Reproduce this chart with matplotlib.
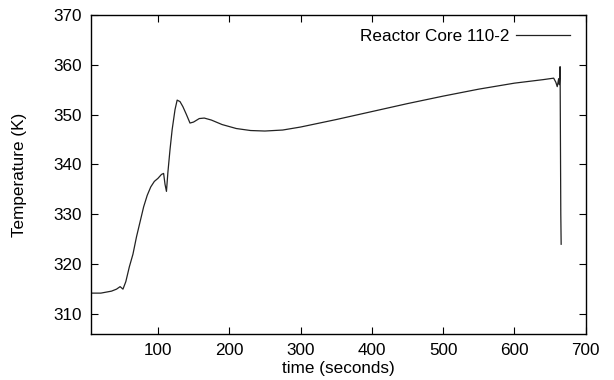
import matplotlib
matplotlib.use("Agg")
import matplotlib.pyplot as plt

plt.rcParams['font.family'] = ['Liberation Sans', 'DejaVu Sans']

time_s = [6, 20, 35, 42, 47, 51, 55, 60, 65, 70, 75, 80, 85, 90, 95, 100, 105,
          108, 110, 112, 114, 117, 120, 124, 127, 131, 135, 140, 145, 150, 158,
          165, 175, 190, 210, 230, 250, 275, 300, 350, 400, 450, 500, 550, 600,
          640, 655, 658, 660, 662, 663, 664, 665, 665.5]
temp_k = [314.2, 314.2, 314.6, 315.0, 315.5, 315.0, 316.5, 319.5, 322.0, 325.5,
          328.5, 331.5, 333.8, 335.5, 336.6, 337.2, 338.0, 338.2, 336.0, 334.6,
          338.4, 343.0, 347.0, 351.0, 352.9, 352.6, 351.6, 350.0, 348.3, 348.5,
          349.2, 349.3, 348.9, 348.0, 347.2, 346.8, 346.7, 346.9, 347.5, 349.0,
          350.6, 352.2, 353.7, 355.1, 356.3, 357.0, 357.3, 356.5, 355.6, 357.2,
          356.0, 359.6, 330.0, 324.0]

x_ticks = [100, 200, 300, 400, 500, 600, 700]
y_ticks = [310, 320, 330, 340, 350, 360, 370]
series_label = "Reactor Core 110-2"

fs = 12.3
fig = plt.figure(figsize=(6.14, 3.80), dpi=100)
ax = fig.add_axes([0.148, 0.121, 0.806, 0.840])
ax.plot(time_s, temp_k, color='#222222', lw=0.9, label=series_label)
ax.set_xlim(6, 700)
ax.set_ylim(306, 370)
ax.set_xticks(x_ticks)
ax.set_yticks(y_ticks)
ax.tick_params(direction='in', top=True, right=True, length=5, width=0.8,
               labelsize=fs, pad=6.5)
for s in ax.spines.values():
    s.set_linewidth(1.0)
ax.set_xlabel("time (seconds)", fontsize=fs, labelpad=2)
ax.set_ylabel("Temperature (K)", fontsize=fs, labelpad=19)
ax.legend(loc='upper right', frameon=False, markerfirst=False, fontsize=fs,
          handlelength=3.2, handletextpad=0.35, borderaxespad=0.5,
          borderpad=0.4, bbox_to_anchor=(1.0, 1.003))
fig.savefig("out.png", dpi=100, facecolor='white')
